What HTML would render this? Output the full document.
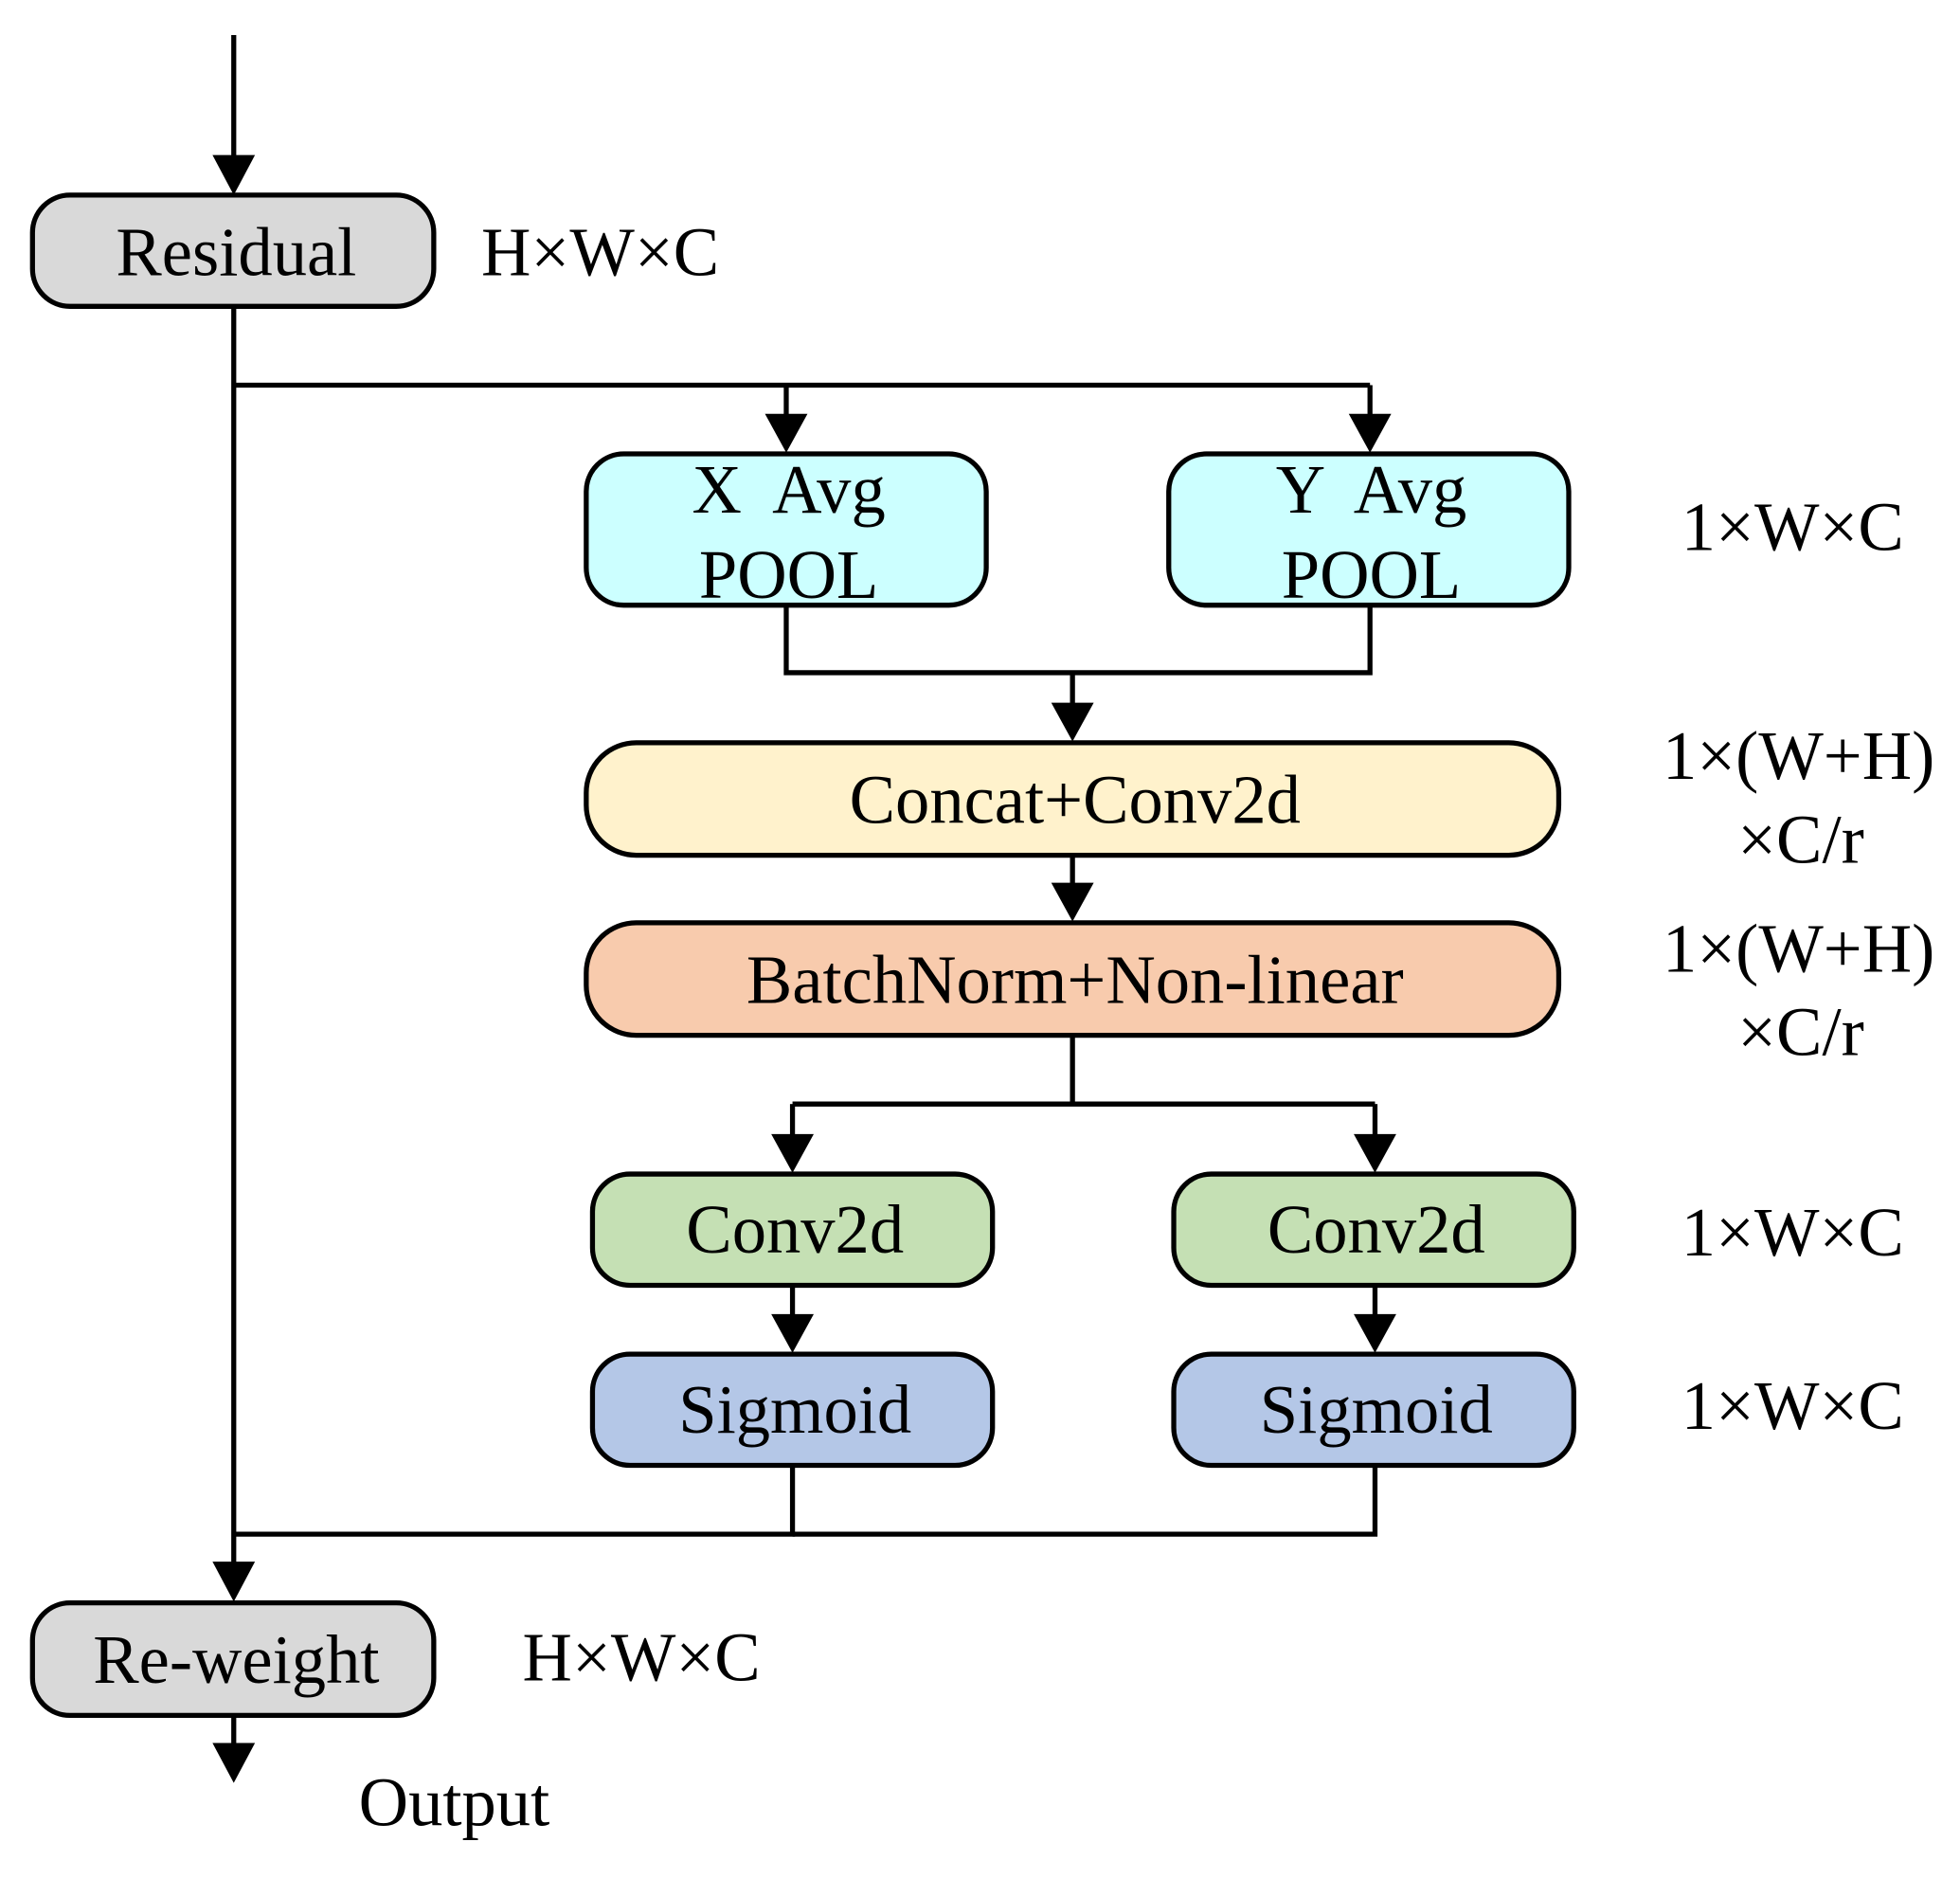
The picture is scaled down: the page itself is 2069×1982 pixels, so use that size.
<!DOCTYPE html>
<html><head><meta charset="utf-8"><style>
html,body{margin:0;padding:0;background:#fff;}
svg{display:block;}
text{font-family:"Liberation Serif",serif;font-size:55px;fill:#000;}
</style></head><body>
<svg width="2069" height="1982" viewBox="0 0 1568 1502" xmlns="http://www.w3.org/2000/svg">
<g stroke="#000" stroke-width="4" fill="none">
<line x1="187" y1="28" x2="187" y2="128"/>
<line x1="187" y1="245" x2="187" y2="1252"/>
<line x1="187" y1="308" x2="1096" y2="308"/>
<line x1="629" y1="308" x2="629" y2="335"/>
<line x1="1096" y1="308" x2="1096" y2="335"/>
<polyline points="629,484 629,538 1096,538 1096,484"/>
<line x1="858" y1="538" x2="858" y2="566"/>
<line x1="858" y1="684" x2="858" y2="710"/>
<line x1="858" y1="828" x2="858" y2="883"/>
<line x1="634" y1="883" x2="1100" y2="883"/>
<line x1="634" y1="883" x2="634" y2="911"/>
<line x1="1100" y1="883" x2="1100" y2="911"/>
<line x1="634" y1="1028" x2="634" y2="1055"/>
<line x1="1100" y1="1028" x2="1100" y2="1055"/>
<polyline points="634,1172 634,1227 187,1227"/>
<polyline points="1100,1172 1100,1227 634,1227"/>
<line x1="187" y1="1372" x2="187" y2="1398"/>
</g>
<g fill="#000">
<polygon points="170,124 204,124 187,156"/>
<polygon points="612,331 646,331 629,362"/>
<polygon points="1079,331 1113,331 1096,362"/>
<polygon points="841,562 875,562 858,593"/>
<polygon points="841,706 875,706 858,737"/>
<polygon points="617,907 651,907 634,938"/>
<polygon points="1083,907 1117,907 1100,938"/>
<polygon points="617,1051 651,1051 634,1082"/>
<polygon points="1083,1051 1117,1051 1100,1082"/>
<polygon points="170,1249 204,1249 187,1281"/>
<polygon points="170,1394 204,1394 187,1426"/>
</g>
<g stroke="#000" stroke-width="4">
<rect x="26" y="156" width="321" height="89" rx="30" fill="#d9d9d9"/>
<rect x="469" y="363" width="320" height="121" rx="30" fill="#ccffff"/>
<rect x="935" y="363" width="320" height="121" rx="30" fill="#ccffff"/>
<rect x="469" y="594" width="778" height="90" rx="40" fill="#fff2cc"/>
<rect x="469" y="738" width="778" height="90" rx="40" fill="#f8cbad"/>
<rect x="474" y="939" width="320" height="89" rx="30" fill="#c5e0b4"/>
<rect x="939" y="939" width="320" height="89" rx="30" fill="#c5e0b4"/>
<rect x="474" y="1083" width="320" height="89" rx="30" fill="#b4c7e7"/>
<rect x="939" y="1083" width="320" height="89" rx="30" fill="#b4c7e7"/>
<rect x="26" y="1282" width="321" height="90" rx="30" fill="#d9d9d9"/>
</g>
<g text-anchor="middle">
<text x="189" y="220">Residual</text>
<text x="631" y="410" xml:space="preserve">X  Avg</text>
<text x="631" y="478">POOL</text>
<text x="1097" y="410" xml:space="preserve">Y  Avg</text>
<text x="1097" y="478">POOL</text>
<text x="860" y="658">Concat+Conv2d</text>
<text x="860" y="802">BatchNorm+Non-linear</text>
<text x="636" y="1002">Conv2d</text>
<text x="1101" y="1002">Conv2d</text>
<text x="636" y="1146">Sigmoid</text>
<text x="1101" y="1146">Sigmoid</text>
<text x="189" y="1346">Re-weight</text>
</g>
<text x="385" y="220">H×W×C</text>
<text x="1345" y="440">1×W×C</text>
<text x="1330" y="623">1×(W+H)</text>
<text x="1390" y="690">×C/r</text>
<text x="1330" y="777">1×(W+H)</text>
<text x="1390" y="844">×C/r</text>
<text x="1345" y="1004">1×W×C</text>
<text x="1345" y="1143">1×W×C</text>
<text x="418" y="1344">H×W×C</text>
<text x="287" y="1460">Output</text>
</svg>
</body></html>
